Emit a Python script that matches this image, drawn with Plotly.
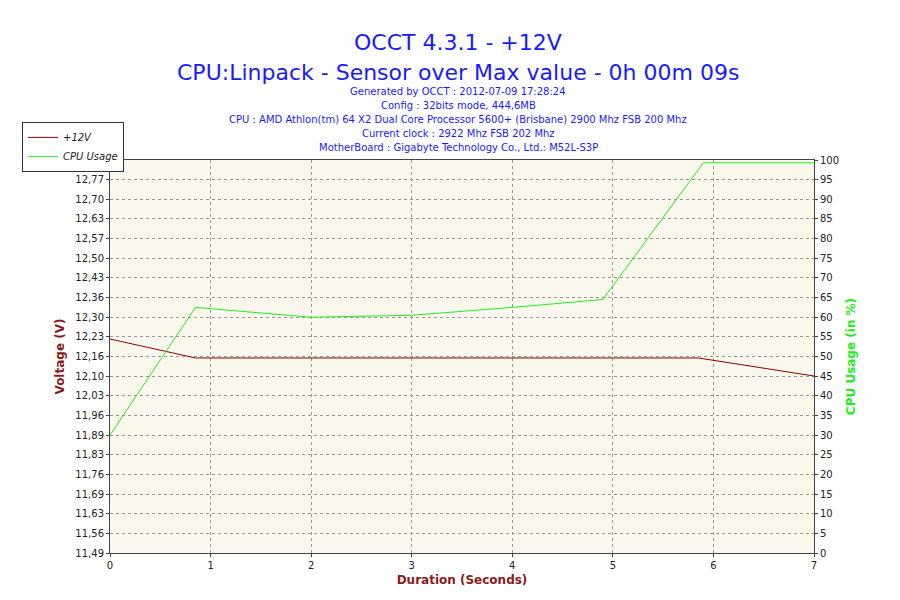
import plotly.graph_objects as go

# +12V readings
volt_t = [0, 0.85, 2, 3, 4, 5, 5.85, 7]
volt_v = [12.225, 12.16, 12.16, 12.16, 12.16, 12.16, 12.16, 12.098]
# CPU usage
cpu_t = [0, 0.85, 2, 3, 4, 4.9, 5.9, 7]
cpu_v = [30, 62.5, 60, 60.5, 62.5, 64.5, 99.3, 99.3]

v_ticks = [11.49, 11.56, 11.63, 11.69, 11.76, 11.83, 11.89, 11.96, 12.03, 12.10, 12.16,
           12.23, 12.30, 12.36, 12.43, 12.50, 12.57, 12.63, 12.70, 12.77, 12.84]
v_vals = [11.49 + i * 0.0675 for i in range(21)]
v_labels = [("%.2f" % t).replace(".", ",") for t in v_ticks]

blue = "#1a1aff"
darkred = "#8b1a1a"
green = "#22ee22"
fnt = "DejaVu Sans"

fig = go.Figure()
fig.add_trace(go.Scatter(x=volt_t, y=volt_v, name="+12V", mode="lines",
                         line=dict(color="#8b0000", width=1)))
fig.add_trace(go.Scatter(x=cpu_t, y=cpu_v, name="CPU Usage", mode="lines", yaxis="y2",
                         line=dict(color="#22ee22", width=1)))

grid = dict(showgrid=True, gridcolor="#999999", griddash="dot", gridwidth=1)
fig.update_layout(
    width=900, height=600, paper_bgcolor="white", plot_bgcolor="#faf8ec",
    margin=dict(l=102, r=94, t=152, b=55, autoexpand=False),
    font=dict(family=fnt, size=10, color="#222"),
    xaxis=dict(range=[0, 7], tickvals=list(range(8)), showline=True, linecolor="#444",
               mirror=True, ticks="outside", ticklen=3, zeroline=False,
               title=dict(text="<b>Duration (Seconds)</b>", font=dict(color=darkred, size=12), standoff=5),
               **grid),
    yaxis=dict(range=[11.49, 11.49 + 1.3501], tickvals=v_vals, ticktext=v_labels, showline=True,
               linecolor="#444", ticks="outside", ticklen=3, zeroline=False,
               title=dict(text="<b>Voltage (V)</b>", font=dict(color=darkred, size=12), standoff=8),
               **grid),
    yaxis2=dict(range=[0, 100.01], dtick=5, overlaying="y", side="right", showgrid=False,
                ticks="outside", ticklen=3, showline=True, linecolor="#444", zeroline=False,
                title=dict(text="<b>CPU Usage (in %)</b>", font=dict(color=green, size=12), standoff=8)),
    legend=dict(x=-0.125, y=1.097, xanchor="left", yanchor="top", bordercolor="#333",
                borderwidth=1, bgcolor="white", font=dict(size=10, style="italic"),
                tracegroupgap=0, itemwidth=30),
    showlegend=True,
)

titles = [("OCCT 4.3.1 - +12V", 20, 22), ("CPU:Linpack - Sensor over Max value - 0h 00m 09s", 50, 22)]
subs = ["Generated by OCCT : 2012-07-09 17:28:24", "Config : 32bits mode, 444,6MB",
        "CPU : AMD Athlon(tm) 64 X2 Dual Core Processor 5600+ (Brisbane) 2900 Mhz FSB 200 Mhz",
        "Current clock : 2922 Mhz FSB 202 Mhz", "MotherBoard : Gigabyte Technology Co., Ltd.: M52L-S3P"]
px_x = (450 - 102) / 704


def py(ypx):
    return (545 - ypx) / 393


for text, ypx, size in titles:
    fig.add_annotation(x=px_x, y=py(ypx), xref="paper", yref="paper", text=text, showarrow=False,
                       font=dict(size=size, color=blue, family=fnt))
for i, s in enumerate(subs):
    fig.add_annotation(x=px_x, y=py(76 + i * 14), xref="paper", yref="paper", text=s,
                       showarrow=False, font=dict(size=10, color=blue, family=fnt))

fig.write_html("out.html")
